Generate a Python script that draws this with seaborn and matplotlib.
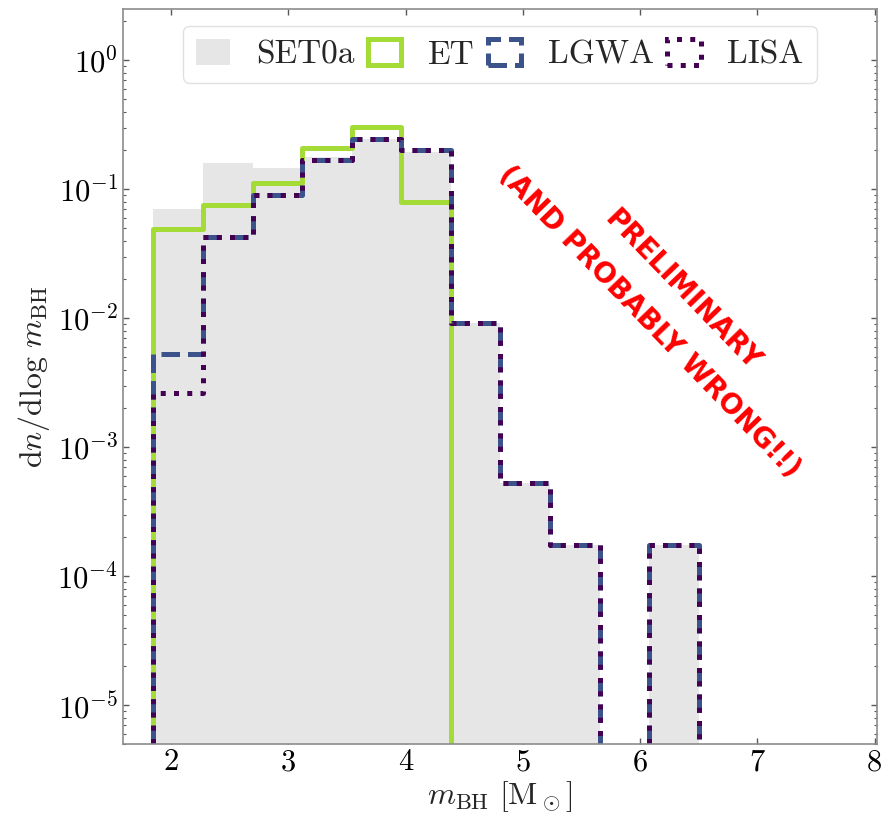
import numpy as np
import pandas as pd
import matplotlib
matplotlib.use("Agg")
import matplotlib.pyplot as plt
from matplotlib.patches import Patch
import seaborn as sns

# ---- data ----
bin_edges = [1.85, 2.273, 2.695, 3.118, 3.541, 3.964, 4.386, 4.809, 5.232, 5.655, 6.077, 6.5]
set0a = [0.0707, 0.161, 0.145, 0.179, 0.243, 0.196, 0.0091, 5.3e-4, 1.75e-4, 0.0, 1.75e-4]
et    = [0.0494, 0.0759, 0.1125, 0.207, 0.301, 0.080, 0.0, 0.0, 0.0, 0.0, 0.0]
lgwa  = [0.00527, 0.0428, 0.0908, 0.167, 0.243, 0.203, 0.0091, 5.3e-4, 1.75e-4, 0.0, 1.75e-4]
lisa  = [0.00262, 0.0428, 0.0908, 0.167, 0.243, 0.203, 0.0091, 5.3e-4, 1.75e-4, 0.0, 1.75e-4]
labels = ["SET0a", "ET", "LGWA", "LISA"]
x_ticks = [2, 3, 4, 5, 6, 7, 8]

c_set0a = "#e6e6e6"
c_et = "#a5db36"
c_lgwa = "#3b528b"
c_lisa = "#440154"

sns.set_style("ticks")
plt.rcParams.update({
    "font.family": "serif",
    "font.serif": ["cmr10"],
    "mathtext.fontset": "cm",
    "axes.formatter.use_mathtext": True,
    "axes.unicode_minus": False,
})

edges = np.array(bin_edges)
w = edges[1] - edges[0]
# pad with one empty bin on each side so step outlines drop to the baseline
ext_edges = [float(v) for v in np.concatenate([[edges[0] - w], edges, [edges[-1] + w]])]
ee = np.array(ext_edges)
centers = 0.5 * (ee[:-1] + ee[1:])

def padded(v):
    return np.concatenate([[0.0], np.asarray(v, float), [0.0]])

df = pd.DataFrame({"x": centers, "SET0a": padded(set0a), "ET": padded(et),
                   "LGWA": padded(lgwa), "LISA": padded(lisa)})

fig = plt.figure(figsize=(8.88, 8.22), dpi=100)
ax = fig.add_axes([0.1385, 0.0949, 0.849, 0.8943])
ax.set_yscale("log")

lw = 3.6
sns.histplot(data=df, x="x", weights="SET0a", bins=ext_edges, element="step",
             fill=True, color=c_set0a, alpha=1, linewidth=0, ax=ax)
sns.histplot(data=df, x="x", weights="ET", bins=ext_edges, element="step",
             fill=False, color=c_et, linewidth=lw, ax=ax)
sns.histplot(data=df, x="x", weights="LGWA", bins=ext_edges, element="step",
             fill=False, color=c_lgwa, linewidth=lw, linestyle="--", ax=ax)
sns.histplot(data=df, x="x", weights="LISA", bins=ext_edges, element="step",
             fill=False, color=c_lisa, linewidth=lw, linestyle=":", ax=ax)

ax.set_xlim(1.59, 8.02)
ax.set_ylim(5e-6, 2.5)
ax.set_xticks(x_ticks)
ax.set_xticklabels([str(t) for t in x_ticks])

ax.set_xlabel(r"$m_\mathrm{BH}\ [\mathrm{M}_\odot]$", fontsize=23, labelpad=2)
ax.set_ylabel(r"$\mathrm{d}n/\mathrm{d}\log\, m_\mathrm{BH}$", fontsize=23, labelpad=4)

for s in ax.spines.values():
    s.set_color("0.55")
    s.set_linewidth(1.2)
ax.tick_params(which="both", direction="in", top=True, right=True, colors="0.35",
               labelcolor="black", labelsize=22)
ax.tick_params(which="major", length=4, width=1)
ax.tick_params(which="minor", length=2.5, width=0.8)

handles = [
    Patch(facecolor=c_set0a, edgecolor="none"),
    Patch(facecolor="none", edgecolor=c_et, linewidth=lw),
    Patch(facecolor="none", edgecolor=c_lgwa, linewidth=lw, linestyle="--"),
    Patch(facecolor="none", edgecolor=c_lisa, linewidth=lw, linestyle=":"),
]
ax.legend(handles, labels, loc="upper center", ncol=4, fontsize=24,
          handlelength=1.0, handleheight=0.85, handletextpad=0.8,
          columnspacing=0.4, frameon=True, fancybox=True, framealpha=0.8,
          edgecolor="0.85", borderaxespad=0.5, bbox_to_anchor=(0.5, 1.0))

ax.text(0.72, 0.596, "PRELIMINARY\n(AND PROBABLY WRONG!!)", transform=ax.transAxes,
        rotation=-46, rotation_mode="anchor", ha="center", va="center",
        multialignment="center", color="red", fontsize=20, fontweight="heavy",
        family="DejaVu Sans", linespacing=1.8)

fig.savefig("out.png", dpi=100)
